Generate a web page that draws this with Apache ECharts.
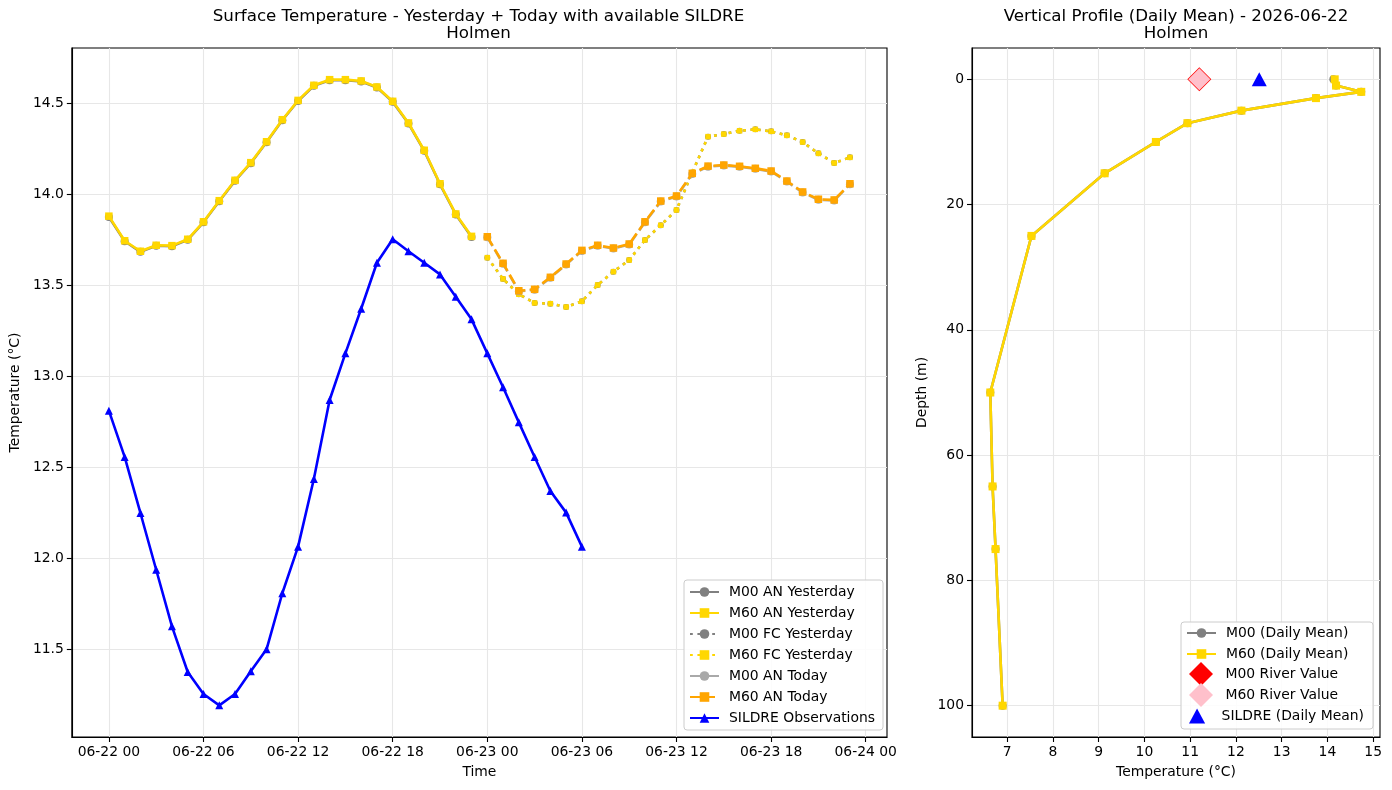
<!DOCTYPE html>
<html>
<head>
<meta charset="utf-8">
<script src="https://cdn.jsdelivr.net/npm/echarts@6/dist/echarts.min.js"></script>
<style>
html,body{margin:0;padding:0;background:#fff;}
#c{width:1392px;height:790px;}
</style>
</head>
<body>
<div id="c"></div>
<script>
// ---------------- DATA ----------------
// hours since 06-22 00
const hoursYesterday = [0,1,2,3,4,5,6,7,8,9,10,11,12,13,14,15,16,17,18,19,20,21,22,23];
const anYesterdayM00 = [13.875,13.742,13.684,13.717,13.715,13.75,13.846,13.962,14.074,14.171,14.286,14.407,14.513,14.596,14.627,14.627,14.62,14.587,14.508,14.389,14.239,14.055,13.889,13.766];
const anYesterdayM60 = [13.88,13.745,13.687,13.72,13.718,13.753,13.849,13.965,14.077,14.174,14.289,14.41,14.516,14.599,14.63,14.63,14.623,14.59,14.511,14.392,14.242,14.058,13.892,13.769];
const hoursToday = [24,25,26,27,28,29,30,31,32,33,34,35,36,37,38,39,40,41,42,43,44,45,46,47];
const fcYesterdayM00 = [13.652,13.535,13.451,13.403,13.399,13.381,13.412,13.502,13.575,13.639,13.749,13.83,13.914,14.12,14.317,14.331,14.349,14.357,14.346,14.324,14.287,14.225,14.172,14.203];
const fcYesterdayM60 = [13.652,13.535,13.451,13.403,13.399,13.381,13.412,13.502,13.575,13.639,13.749,13.83,13.914,14.12,14.317,14.331,14.349,14.357,14.346,14.324,14.287,14.225,14.172,14.203];
const anTodayM00 = [13.764,13.618,13.467,13.475,13.541,13.614,13.689,13.717,13.702,13.724,13.846,13.96,13.988,14.112,14.152,14.158,14.151,14.14,14.125,14.07,14.01,13.97,13.966,14.055];
const anTodayM60 = [13.767,13.621,13.47,13.478,13.544,13.617,13.692,13.72,13.705,13.727,13.849,13.963,13.991,14.115,14.155,14.161,14.154,14.143,14.128,14.073,14.013,13.973,13.969,14.058];
const hoursSildre = [0,1,2,3,4,5,6,7,8,9,10,11,12,13,14,15,16,17,18,19,20,21,22,23,24,25,26,27,28,29,30];
const sildreObs = [12.811,12.557,12.249,11.937,11.626,11.375,11.254,11.192,11.254,11.379,11.5,11.808,12.064,12.436,12.87,13.126,13.371,13.624,13.753,13.687,13.624,13.56,13.437,13.313,13.126,12.94,12.747,12.557,12.37,12.251,12.064];
const timeTicks = [0,6,12,18,24,30,36,42,48];
const tempTicks = [11.5,12.0,12.5,13.0,13.5,14.0,14.5];

// vertical profile
const depths = [0,1,2,3,5,7,10,15,25,50,65,75,100];
const profileM00 = [14.13,14.19,14.74,13.75,12.12,10.94,10.25,9.13,7.53,6.63,6.68,6.745,6.9];
const profileM60 = [14.16,14.19,14.74,13.75,12.12,10.94,10.25,9.13,7.53,6.63,6.68,6.745,6.9];
const riverM00 = 11.2;
const riverM60 = 11.2;
const sildreDailyMean = 12.51;
const profTempTicks = [7,8,9,10,11,12,13,14,15];
const depthTicks = [0,20,40,60,80,100];

// -------------- helpers --------------
const pairs = (xs, ys) => xs.map((x, i) => [x, ys[i]]);
const FS = 13.9;
const BLACK = '#000';
const GRID = '#e7e7e7';
const LW = 2.6;
const DOTTED = [2.8, 4.6];
const DASHED = [10.3, 4.4];
function fmtTime(v){
  const d = 22 + Math.floor(v / 24);
  const h = v % 24;
  return '06-' + d + ' ' + (h < 10 ? '0' + h : '' + h);
}
const axisCommon = {
  axisLine: {show: true, onZero: false, lineStyle: {color: BLACK, width: 1.1}},
  axisTick: {show: true, length: 5, lineStyle: {color: BLACK, width: 1.1}},
  splitLine: {show: true, lineStyle: {color: GRID, width: 1.1}},
  nameTextStyle: {color: BLACK, fontSize: FS, fontFamily: 'DejaVu Sans'}
};
function mkLine(name, data, color, symbol, size, type, xi, z){
  return {
    name, type: 'line', data, xAxisIndex: xi, yAxisIndex: xi,
    symbol, symbolSize: size, showSymbol: true,
    lineStyle: {color, width: LW, type, cap: 'butt'},
    itemStyle: {color, borderWidth: 0},
    z: z, animation: false
  };
}
const diamondIcon = 'path://M0,-1L1,0L0,1L-1,0Z';
const triIcon = 'path://M0,-0.93L1,0.93L-1,0.93Z';
const legendText = {fontSize: FS, color: '#000', fontFamily: 'DejaVu Sans', padding: [0,0,0,5], lineHeight: 14};

const chart = echarts.init(document.getElementById('c'), null, {renderer: 'canvas'});
const option = {
  animation: false,
  backgroundColor: '#fff',
  textStyle: {fontFamily: 'DejaVu Sans', color: BLACK},
  title: [
    {text: 'Surface Temperature - Yesterday + Today with available SILDRE\nHolmen', left: 478.5, top: 8, textAlign: 'center', padding: 0,
     textStyle: {fontSize: 16.7, fontWeight: 'normal', color: BLACK, lineHeight: 17, fontFamily: 'DejaVu Sans'}},
    {text: 'Vertical Profile (Daily Mean) - 2026-06-22\nHolmen', left: 1176, top: 8, textAlign: 'center', padding: 0,
     textStyle: {fontSize: 16.7, fontWeight: 'normal', color: BLACK, lineHeight: 17, fontFamily: 'DejaVu Sans'}}
  ],
  grid: [
    {left: 70, top: 48, width: 817, height: 689, show: true, borderColor: BLACK, borderWidth: 1.1, containLabel: false},
    {left: 972, top: 48, width: 408, height: 689, show: true, borderColor: BLACK, borderWidth: 1.1, containLabel: false}
  ],
  xAxis: [
    Object.assign({}, axisCommon, {
      type: 'value', gridIndex: 0, min: -2.35, max: 49.35,
      name: 'Time', nameLocation: 'middle', nameGap: 28,
      axisTick: Object.assign({}, axisCommon.axisTick, {customValues: timeTicks}),
      axisLabel: {customValues: timeTicks, formatter: fmtTime, color: BLACK, fontSize: FS, margin: 8, fontFamily: 'DejaVu Sans'}
    }),
    Object.assign({}, axisCommon, {
      type: 'value', gridIndex: 1, min: 6.23, max: 15.15,
      name: 'Temperature (°C)', nameLocation: 'middle', nameGap: 28,
      axisTick: Object.assign({}, axisCommon.axisTick, {customValues: profTempTicks}),
      axisLabel: {customValues: profTempTicks, color: BLACK, fontSize: FS, margin: 8, fontFamily: 'DejaVu Sans'}
    })
  ],
  yAxis: [
    Object.assign({}, axisCommon, {
      type: 'value', gridIndex: 0, min: 11.018, max: 14.804,
      name: 'Temperature (°C)', nameLocation: 'middle', nameGap: 47,
      axisTick: Object.assign({}, axisCommon.axisTick, {customValues: tempTicks}),
      axisLabel: {customValues: tempTicks, formatter: v => v.toFixed(1), color: BLACK, fontSize: FS, margin: 8, fontFamily: 'DejaVu Sans'}
    }),
    Object.assign({}, axisCommon, {
      type: 'value', gridIndex: 1, min: -5, max: 105, inverse: true,
      name: 'Depth (m)', nameLocation: 'middle', nameGap: 43,
      axisTick: Object.assign({}, axisCommon.axisTick, {customValues: depthTicks}),
      axisLabel: {customValues: depthTicks, color: BLACK, fontSize: FS, margin: 8, fontFamily: 'DejaVu Sans'}
    })
  ],
  graphic: [
    {type: 'rect', z: 50, silent: true,
     shape: {x: 1181, y: 622, width: 192, height: 107, r: 3},
     style: {fill: 'rgba(255,255,255,0.85)', stroke: '#cccccc', lineWidth: 1}}
  ],
  legend: [
    {
      data: ['M00 AN Yesterday','M60 AN Yesterday','M00 FC Yesterday','M60 FC Yesterday',
             {name: 'M00 AN Today', lineStyle: {type: 'solid'}},'M60 AN Today','SILDRE Observations'],
      orient: 'vertical', left: 684, top: 580, itemWidth: 29, itemHeight: 12, itemGap: 7,
      padding: [5, 8, 5, 5], backgroundColor: 'rgba(255,255,255,0.85)', borderColor: '#cccccc', borderWidth: 1, borderRadius: 3,
      textStyle: legendText
    },
    {
      data: ['M00 (Daily Mean)','M60 (Daily Mean)'],
      orient: 'vertical', left: 1181, top: 622, itemWidth: 29, itemHeight: 12, itemGap: 7,
      padding: [4, 8, 0, 5], z: 60,
      textStyle: legendText
    },
    {
      data: [{name: 'M00 River Value', icon: diamondIcon},
             {name: 'M60 River Value', icon: diamondIcon}],
      orient: 'vertical', left: 1189, top: 662, itemWidth: 29, itemHeight: 24, itemGap: -3,
      symbolKeepAspect: true, padding: 0, z: 60,
      textStyle: legendText
    },
    {
      data: [{name: 'SILDRE (Daily Mean)', icon: triIcon}],
      orient: 'vertical', left: 1189, top: 708.5, itemWidth: 29, itemHeight: 15,
      symbolKeepAspect: true, padding: 0, z: 60,
      textStyle: legendText
    }
  ],
  series: [
    mkLine('M00 AN Yesterday', pairs(hoursYesterday, anYesterdayM00), '#808080', 'circle', 8, 'solid', 0, 2),
    mkLine('M60 AN Yesterday', pairs(hoursYesterday, anYesterdayM60), '#FFD700', 'rect', 7.5, 'solid', 0, 3),
    mkLine('M00 FC Yesterday', pairs(hoursToday, fcYesterdayM00), '#808080', 'circle', 6, DOTTED, 0, 2),
    mkLine('M60 FC Yesterday', pairs(hoursToday, fcYesterdayM60), '#FFD700', 'rect', 5.5, DOTTED, 0, 3),
    mkLine('M00 AN Today', pairs(hoursToday, anTodayM00), '#A9A9A9', 'circle', 8, DASHED, 0, 4),
    mkLine('M60 AN Today', pairs(hoursToday, anTodayM60), '#FFA500', 'rect', 7.5, DASHED, 0, 5),
    mkLine('SILDRE Observations', pairs(hoursSildre, sildreObs), '#0000FF', 'triangle', 8, 'solid', 0, 6),
    mkLine('M00 (Daily Mean)', pairs(profileM00, depths), '#808080', 'circle', 8, 'solid', 1, 2),
    mkLine('M60 (Daily Mean)', pairs(profileM60, depths), '#FFD700', 'rect', 8, 'solid', 1, 3),
    {name: 'M00 River Value', type: 'scatter', xAxisIndex: 1, yAxisIndex: 1, data: [[riverM00, 0]],
     symbol: 'diamond', symbolSize: 24, itemStyle: {color: '#FF0000', opacity: 1}, z: 4},
    {name: 'M60 River Value', type: 'scatter', xAxisIndex: 1, yAxisIndex: 1, data: [[riverM60, 0]],
     symbol: 'diamond', symbolSize: 22, itemStyle: {color: '#FFC0CB', borderColor: '#FF0000', borderWidth: 0, opacity: 1}, z: 5},
    {name: 'SILDRE (Daily Mean)', type: 'scatter', xAxisIndex: 1, yAxisIndex: 1, data: [[sildreDailyMean, 0]],
     symbol: 'triangle', symbolSize: [15, 14], itemStyle: {color: '#0000FF', opacity: 1}, z: 5}
  ]
};
chart.setOption(option);
</script>
</body>
</html>
